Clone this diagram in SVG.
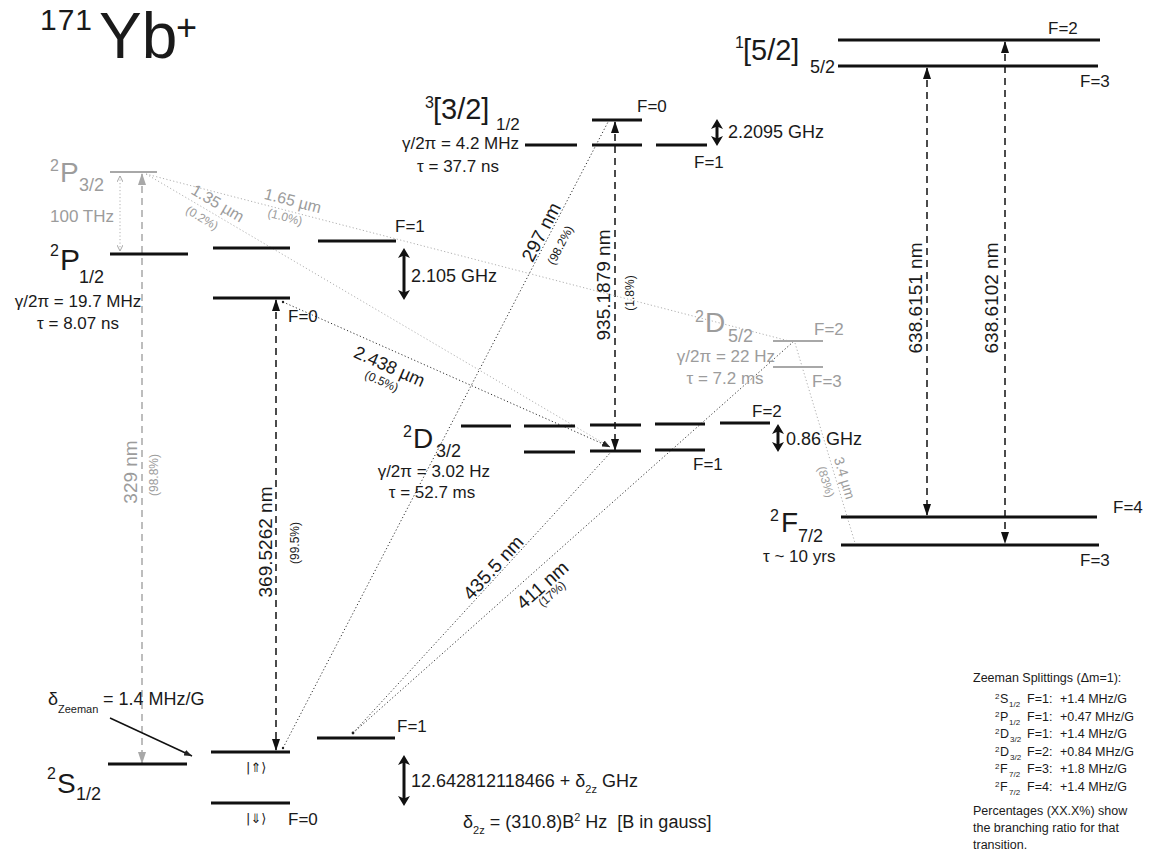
<svg xmlns="http://www.w3.org/2000/svg" width="1154" height="852" viewBox="0 0 1154 852">
<style>
text { font-family: "Liberation Sans", Arial, sans-serif; fill: #1a1a1a; }
.g { fill: #9c9c9c; }
.sup { font-size: 16px; }
.big { font-size: 28px; }
.sub { font-size: 18px; }
.lab { font-size: 17px; }
.val { font-size: 18px; }
.wl { font-size: 19px; }
.pct { font-size: 12px; }
.sym { font-family: "DejaVu Sans", sans-serif; font-size: 13px; }
.note { font-size: 12.5px; }
.nsup { font-size: 8px; }
.lvl { stroke: #111; stroke-width: 3; }
.lvlg { stroke: #a8a8a8; stroke-width: 2; }
.dash { stroke: #111; stroke-width: 1.5; stroke-dasharray: 7 5; fill: none; }
.dashg { stroke: #a8a8a8; stroke-width: 1.5; stroke-dasharray: 7 5; fill: none; }
.dot { stroke: #333; stroke-width: 1; stroke-dasharray: 1.2 2.3; fill: none; }
.dotg { stroke: #b0b0b0; stroke-width: 1; stroke-dasharray: 1.2 2.3; fill: none; }
.bold { stroke: #111; stroke-width: 3; fill: none; }
</style>
<defs>
<marker id="ah" viewBox="0 0 12 8" markerWidth="12" markerHeight="8" refX="11" refY="4" orient="auto-start-reverse" markerUnits="userSpaceOnUse"><path d="M0,0 L12,4 L0,8 z" fill="#111"/></marker>
<marker id="ahg" viewBox="0 0 12 8" markerWidth="12" markerHeight="8" refX="11" refY="4" orient="auto-start-reverse" markerUnits="userSpaceOnUse"><path d="M0,0 L12,4 L0,8 z" fill="#a8a8a8"/></marker>
<marker id="bh" viewBox="0 0 10 12" markerWidth="10" markerHeight="12" refX="6" refY="6" orient="auto-start-reverse" markerUnits="userSpaceOnUse"><path d="M0,0 L10,6 L0,12 L2.5,6 z" fill="#111"/></marker>
<marker id="sa" viewBox="0 0 8 6" markerWidth="8" markerHeight="6" refX="8" refY="3" orient="auto" markerUnits="userSpaceOnUse"><path d="M0,0 L8,3 L0,6 z" fill="#222"/></marker>
<marker id="sag" viewBox="0 0 8 6" markerWidth="8" markerHeight="6" refX="8" refY="3" orient="auto" markerUnits="userSpaceOnUse"><path d="M0,0 L8,3 L0,6 z" fill="#555"/></marker>
<marker id="chev" viewBox="0 0 6 6" markerWidth="6" markerHeight="6" refX="6" refY="3" orient="auto-start-reverse" markerUnits="userSpaceOnUse"><path d="M0,0 L6,3 L0,6" fill="none" stroke="#a8a8a8" stroke-width="1"/></marker>
</defs>

<g id="title">
<text x="40" y="30" font-size="30" letter-spacing="1">171</text>
<text x="99" y="58" font-size="64">Yb</text>
<text x="176" y="40" font-size="36">+</text>
</g>

<g id="connectors">
<!-- 329 nm (gray) -->
<line class="dashg" x1="142" y1="174" x2="142" y2="763" marker-start="url(#ahg)" marker-end="url(#ahg)"/>
<text class="wl g" transform="translate(137,472) rotate(-90)" text-anchor="middle">329 nm</text>
<text class="pct g" transform="translate(158,475) rotate(-90)" text-anchor="middle">(98.8%)</text>
<!-- 100 THz -->
<line class="dotg" x1="120" y1="176" x2="120" y2="251" stroke="#a0a0a0" marker-start="url(#chev)" marker-end="url(#chev)"/>
<!-- 369.5262 nm -->
<line class="dash" x1="276" y1="300" x2="276" y2="750" marker-start="url(#ah)" marker-end="url(#ah)"/>
<text class="wl" transform="translate(272,542) rotate(-90)" text-anchor="middle">369.5262 nm</text>
<text class="pct" transform="translate(299,543) rotate(-90)" text-anchor="middle">(99.5%)</text>
<!-- 935.1879 nm -->
<line class="dash" x1="615" y1="122" x2="615" y2="450" marker-start="url(#ah)" marker-end="url(#ah)"/>
<text class="wl" transform="translate(610,285) rotate(-90)" text-anchor="middle">935.1879 nm</text>
<text class="pct" transform="translate(634,293) rotate(-90)" text-anchor="middle">(1.8%)</text>
<!-- 638 nm -->
<line class="dash" x1="927" y1="68" x2="927" y2="515" marker-start="url(#ah)" marker-end="url(#ah)"/>
<text class="wl" transform="translate(922,298) rotate(-90)" text-anchor="middle">638.6151 nm</text>
<line class="dash" x1="1005" y1="42" x2="1005" y2="543" marker-start="url(#ah)" marker-end="url(#ah)"/>
<text class="wl" transform="translate(998,298) rotate(-90)" text-anchor="middle">638.6102 nm</text>

<!-- gray dotted decays from P3/2 -->
<line class="dotg" x1="146" y1="174" x2="610" y2="447" marker-end="url(#sag)"/>
<text class="g" font-size="16" transform="translate(215,208) rotate(30.4)" text-anchor="middle">1.35 µm</text>
<text class="pct g" transform="translate(200,221.5) rotate(30.4)" text-anchor="middle">(0.2%)</text>
<line class="dotg" x1="146" y1="174" x2="793" y2="342"/>
<text class="g" font-size="16" transform="translate(291.5,206) rotate(14.5)" text-anchor="middle">1.65 µm</text>
<text class="pct g" transform="translate(284,221) rotate(14.5)" text-anchor="middle">(1.0%)</text>
<!-- 3.4 um -->
<line class="dotg" x1="795" y1="343" x2="855" y2="543"/>
<text class="g" font-size="14" transform="translate(840,479.5) rotate(73.3)" text-anchor="middle">3.4 µm</text>
<text class="pct g" transform="translate(822,483) rotate(73.3)" text-anchor="middle">(83%)</text>

<!-- 2.438 um -->
<line class="dot" x1="283" y1="302" x2="610" y2="447" marker-end="url(#sa)"/>
<circle cx="283" cy="302" r="1.2" fill="#222"/>
<text class="val" transform="translate(387,372) rotate(23.8)" text-anchor="middle">2.438 µm</text>
<text class="pct" transform="translate(380,385) rotate(23.8)" text-anchor="middle">(0.5%)</text>
<!-- 297 nm -->
<line class="dot" x1="283" y1="748" x2="608" y2="122"/>
<circle cx="283" cy="748" r="1.2" fill="#222"/>
<text class="wl" transform="translate(547,235) rotate(-62.6)" text-anchor="middle">297 nm</text>
<text class="pct" transform="translate(564,247) rotate(-62.6)" text-anchor="middle">(98.2%)</text>
<!-- 435.5 nm & 411 nm -->
<line class="dot" x1="353" y1="733" x2="611" y2="452"/>
<line class="dot" x1="353" y1="733" x2="793" y2="342"/>
<circle cx="353" cy="733" r="1.4" fill="#222"/>
<text class="wl" transform="translate(498,572) rotate(-47.4)" text-anchor="middle">435.5 nm</text>
<text class="wl" transform="translate(546.6,590) rotate(-41.6)" text-anchor="middle">411 nm</text>
<text class="pct" transform="translate(554.6,597) rotate(-41.6)" text-anchor="middle">(17%)</text>

<!-- hyperfine splitting arrows -->
<line class="bold" x1="404" y1="252" x2="404" y2="296" marker-start="url(#bh)" marker-end="url(#bh)"/>
<line class="bold" x1="717" y1="123" x2="717" y2="142" marker-start="url(#bh)" marker-end="url(#bh)"/>
<line class="bold" x1="778" y1="428" x2="778" y2="448" marker-start="url(#bh)" marker-end="url(#bh)"/>
<line class="bold" x1="404" y1="759" x2="404" y2="802" marker-start="url(#bh)" marker-end="url(#bh)"/>
<!-- Zeeman pointer -->
<line x1="110" y1="718" x2="192" y2="756" stroke="#111" stroke-width="1.5" marker-end="url(#sa)"/>
</g>

<g id="P32">
<text class="sup g" x="50" y="171">2</text>
<text class="big g" x="60" y="182">P</text>
<text class="sub g" x="79" y="191">3/2</text>
<line class="lvlg" x1="110" y1="172" x2="157" y2="172"/>
<text class="lab g" x="50" y="222">100 THz</text>
</g>

<g id="P12">
<text class="sup" x="50" y="256">2</text>
<text font-size="30" x="60" y="270">P</text>
<text class="sub" x="79" y="283">1/2</text>
<text class="lab" x="78" y="307" text-anchor="middle">γ/2π = 19.7 MHz</text>
<text class="lab" x="78" y="329" text-anchor="middle">τ = 8.07 ns</text>
<line class="lvl" x1="110" y1="254" x2="188" y2="254"/>
<line class="lvl" x1="213" y1="248" x2="290" y2="248"/>
<line class="lvl" x1="318" y1="241" x2="396" y2="241"/>
<line class="lvl" x1="213" y1="298" x2="290" y2="298"/>
<text class="lab" x="395" y="232">F=1</text>
<text class="lab" x="288" y="322">F=0</text>
<text class="val" x="411" y="282">2.105 GHz</text>
</g>

<g id="B32">
<text class="sup" x="425" y="108">3</text>
<text font-size="29" x="433" y="119">[3/2]</text>
<text class="lab" x="496" y="130">1/2</text>
<text class="lab" x="519" y="149" text-anchor="end">γ/2π = 4.2 MHz</text>
<text class="lab" x="458" y="172" text-anchor="middle">τ = 37.7 ns</text>
<line class="lvl" x1="525" y1="145" x2="577" y2="145"/>
<line class="lvl" x1="592" y1="145" x2="642" y2="145"/>
<line class="lvl" x1="656" y1="145" x2="707" y2="145"/>
<line class="lvl" x1="592" y1="120" x2="642" y2="120"/>
<text class="lab" x="637" y="112">F=0</text>
<text class="lab" x="694" y="168">F=1</text>
<text class="val" x="728" y="138">2.2095 GHz</text>
</g>

<g id="B52">
<text class="sup" x="735" y="48">1</text>
<text font-size="29" x="743" y="60">[5/2]</text>
<text class="sub" x="810" y="73">5/2</text>
<line class="lvl" x1="838" y1="40" x2="1100" y2="40"/>
<line class="lvl" x1="838" y1="66" x2="1098" y2="66"/>
<text class="lab" x="1048" y="34">F=2</text>
<text class="lab" x="1080" y="87">F=3</text>
</g>

<g id="D32">
<text class="sup" x="403" y="437">2</text>
<text class="big" x="413" y="448">D</text>
<text class="sub" x="436" y="457">3/2</text>
<text class="lab" x="490" y="477" text-anchor="end">γ/2π = 3.02 Hz</text>
<text class="lab" x="432" y="498" text-anchor="middle">τ = 52.7 ms</text>
<line class="lvl" x1="461" y1="426" x2="511" y2="426"/>
<line class="lvl" x1="524" y1="426" x2="575" y2="426"/>
<line class="lvl" x1="590" y1="425" x2="641" y2="425"/>
<line class="lvl" x1="655" y1="424" x2="705" y2="424"/>
<line class="lvl" x1="720" y1="423" x2="770" y2="423"/>
<line class="lvl" x1="524" y1="452" x2="575" y2="452"/>
<line class="lvl" x1="590" y1="451" x2="641" y2="451"/>
<line class="lvl" x1="655" y1="450" x2="705" y2="450"/>
<text class="lab" x="752" y="417">F=2</text>
<text class="lab" x="693" y="470">F=1</text>
<text class="val" x="786" y="445">0.86 GHz</text>
</g>

<g id="D52">
<text class="sup g" x="695" y="322">2</text>
<text class="big g" x="705" y="332">D</text>
<text class="sub g" x="728" y="342">5/2</text>
<text class="lab g" x="775" y="362" text-anchor="end">γ/2π = 22 Hz</text>
<text class="lab g" x="725" y="384" text-anchor="middle">τ = 7.2 ms</text>
<line class="lvlg" x1="773" y1="341" x2="823" y2="341"/>
<line class="lvlg" x1="773" y1="367" x2="823" y2="367"/>
<text class="lab g" x="814" y="335">F=2</text>
<text class="lab g" x="812" y="387">F=3</text>
</g>

<g id="F72">
<text class="sup" x="770" y="521">2</text>
<text class="big" x="781" y="532">F</text>
<text class="sub" x="798" y="542">7/2</text>
<text class="lab" x="763" y="562">τ ~ 10 yrs</text>
<line class="lvl" x1="841" y1="517" x2="1097" y2="517"/>
<line class="lvl" x1="841" y1="545" x2="1099" y2="545"/>
<text class="lab" x="1113" y="513">F=4</text>
<text class="lab" x="1080" y="566">F=3</text>
</g>

<g id="S12">
<text class="sup" x="47" y="779">2</text>
<text class="big" x="57" y="793">S</text>
<text class="sub" x="76" y="800">1/2</text>
<line class="lvl" x1="108" y1="764" x2="187" y2="764"/>
<line class="lvl" x1="211" y1="752" x2="290" y2="752"/>
<line class="lvl" x1="317" y1="738" x2="395" y2="738"/>
<line class="lvl" x1="211" y1="803" x2="290" y2="803"/>
<text class="lab" x="397" y="732">F=1</text>
<text class="lab" x="288" y="825">F=0</text>
<text class="sym" x="246" y="772">|⇑⟩</text>
<text class="sym" x="246" y="823">|⇓⟩</text>
<text class="val" x="48" y="705">δ</text>
<text font-size="11" x="58" y="713">Zeeman</text>
<text class="val" x="103" y="705">= 1.4 MHz/G</text>
<text class="val" x="411" y="787">12.642812118466 + δ<tspan font-size="11" dy="6">2z</tspan><tspan dy="-6"> GHz</tspan></text>
<text class="val" x="463" y="828" style="white-space:pre">δ<tspan font-size="11" dy="6">2z</tspan><tspan dy="-6"> = (310.8)B</tspan><tspan font-size="11" dy="-7">2</tspan><tspan dy="7"> Hz  [B in gauss]</tspan></text>
</g>

<g id="zeeman-note">
<text class="note" x="973" y="682">Zeeman Splittings (Δm=1):</text>
<g>
<text class="nsup" x="995" y="699">2</text><text class="note" x="1000" y="703">S</text><text class="nsup" x="1009" y="707">1/2</text>
<text class="note" x="1027" y="703">F=1:</text><text class="note" x="1060" y="703">+1.4 MHz/G</text>
</g>
<g>
<text class="nsup" x="995" y="717">2</text><text class="note" x="1000" y="721">P</text><text class="nsup" x="1009" y="725">1/2</text>
<text class="note" x="1027" y="721">F=1:</text><text class="note" x="1060" y="721">+0.47 MHz/G</text>
</g>
<g>
<text class="nsup" x="995" y="734">2</text><text class="note" x="1000" y="738">D</text><text class="nsup" x="1010" y="742">3/2</text>
<text class="note" x="1027" y="738">F=1:</text><text class="note" x="1060" y="738">+1.4 MHz/G</text>
</g>
<g>
<text class="nsup" x="995" y="752">2</text><text class="note" x="1000" y="756">D</text><text class="nsup" x="1010" y="760">3/2</text>
<text class="note" x="1027" y="756">F=2:</text><text class="note" x="1060" y="756">+0.84 MHz/G</text>
</g>
<g>
<text class="nsup" x="995" y="769">2</text><text class="note" x="1000" y="773">F</text><text class="nsup" x="1009" y="777">7/2</text>
<text class="note" x="1027" y="773">F=3:</text><text class="note" x="1060" y="773">+1.8 MHz/G</text>
</g>
<g>
<text class="nsup" x="995" y="787">2</text><text class="note" x="1000" y="791">F</text><text class="nsup" x="1009" y="795">7/2</text>
<text class="note" x="1027" y="791">F=4:</text><text class="note" x="1060" y="791">+1.4 MHz/G</text>
</g>
<text class="note" font-size="13" x="973" y="815">Percentages (XX.X%) show</text>
<text class="note" font-size="13" x="973" y="832">the branching ratio for that</text>
<text class="note" font-size="13" x="973" y="849">transition.</text>
</g>
</svg>
